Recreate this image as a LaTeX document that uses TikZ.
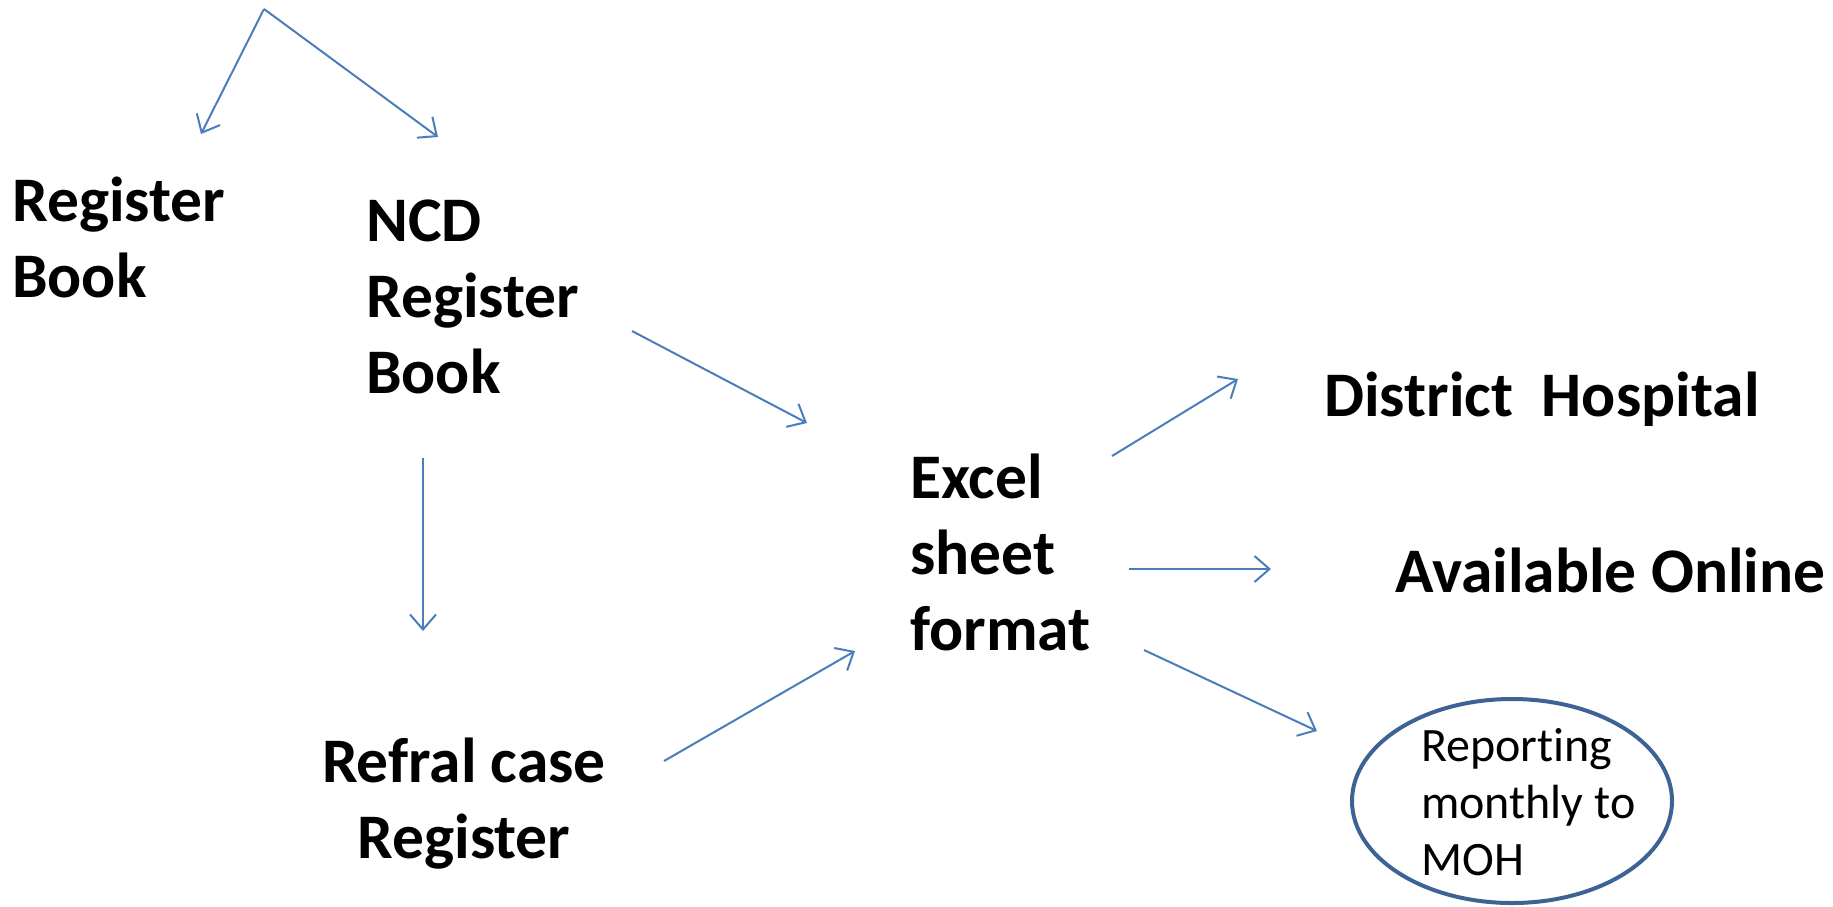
\documentclass[tikz,border=0pt]{standalone}
\usepackage{fontspec}
\setmainfont{Carlito}[Ligatures=NoCommon]
\usetikzlibrary{arrows.meta,shapes.geometric}
\definecolor{arr}{HTML}{4A7EBB}
\definecolor{ell}{HTML}{3D6394}
\begin{document}
\begin{tikzpicture}[x=1pt,y=-1pt,
  lbl/.style={font=\fontsize{63.5}{76}\selectfont\bfseries, inner sep=0pt, align=left, anchor=base west},
  small/.style={font=\fontsize{48}{57}\selectfont, inner sep=0pt, align=left, anchor=base west},
  conn/.style={draw=arr, line width=2pt, -{Straight Barb[length=15pt,width=26pt,line width=2pt]}}]
\useasboundingbox (0,0) rectangle (1833,906);
\node[lbl] (rb) at (12,297) {Register\\Book};
\node[lbl] (ncd) at (366,393) {NCD\\Register\\Book};
\node[lbl, align=center, anchor=base] (ref) at (464,858) {Refral case\\Register};
\node[lbl] (xl) at (910,650) {Excel\\sheet\\format};
\node[lbl] (dh) at (1324,416) {District\ \ Hospital};
\node[lbl] (ao) at (1395,592) {Available Online};
\node[draw=ell, line width=4pt, ellipse, minimum width=320pt, minimum height=204pt, inner sep=0pt] (moh) at (1512,801) {};
\node[small] (mohtxt) at (1421,875) {Reporting\\monthly to\\MOH};
\coordinate (top) at (264,9);
\coordinate (a1) at (201,134);
\coordinate (a2) at (438,137);
\coordinate (b1) at (632,331);
\coordinate (b2) at (807,423);
\coordinate (c1) at (423,458);
\coordinate (c2) at (423,631);
\coordinate (d1) at (664,761);
\coordinate (d2) at (855,651);
\coordinate (e1) at (1112,456);
\coordinate (e2) at (1238,379);
\coordinate (f1) at (1129,569);
\coordinate (f2) at (1271,569);
\coordinate (g1) at (1144,650);
\coordinate (g2) at (1317,731);
\draw[conn] (top) -- (a1);
\draw[conn] (top) -- (a2);
\draw[conn] (b1) -- (b2);
\draw[conn] (c1) -- (c2);
\draw[conn] (d1) -- (d2);
\draw[conn] (e1) -- (e2);
\draw[conn] (f1) -- (f2);
\draw[conn] (g1) -- (g2);
\end{tikzpicture}
\end{document}
